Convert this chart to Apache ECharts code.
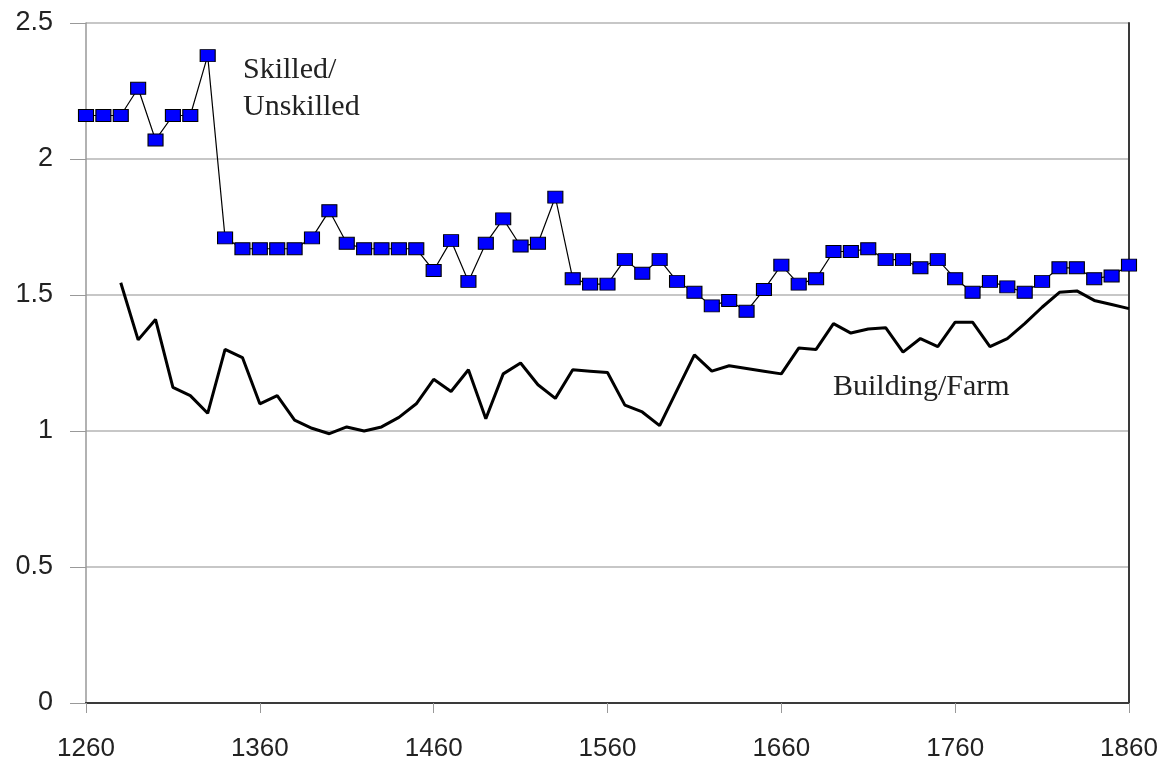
<!DOCTYPE html>
<html>
<head>
<meta charset="utf-8">
<title>Skilled/Unskilled and Building/Farm wage ratios</title>
<script src="https://cdn.jsdelivr.net/npm/echarts@6/dist/echarts.min.js"></script>
<style>
  html, body { margin: 0; padding: 0; background: #fff; }
  #main { width: 1169px; height: 773px; }
</style>
</head>
<body>
<div id="main"></div>
<script>
// decades on the x axis
var years = [1260, 1270, 1280, 1290, 1300, 1310, 1320, 1330, 1340, 1350,
  1360, 1370, 1380, 1390, 1400, 1410, 1420, 1430, 1440, 1450,
  1460, 1470, 1480, 1490, 1500, 1510, 1520, 1530, 1540, 1550,
  1560, 1570, 1580, 1590, 1600, 1610, 1620, 1630, 1640, 1650,
  1660, 1670, 1680, 1690, 1700, 1710, 1720, 1730, 1740, 1750,
  1760, 1770, 1780, 1790, 1800, 1810, 1820, 1830, 1840, 1850, 1860];

// skilled / unskilled wage ratio (blue squares)
var skilled = [2.16, 2.16, 2.16, 2.26, 2.07, 2.16, 2.16, 2.38, 1.71, 1.67,
  1.67, 1.67, 1.67, 1.71, 1.81, 1.69, 1.67, 1.67, 1.67, 1.67,
  1.59, 1.70, 1.55, 1.69, 1.78, 1.68, 1.69, 1.86, 1.56, 1.54,
  1.54, 1.63, 1.58, 1.63, 1.55, 1.51, 1.46, 1.48, 1.44, 1.52,
  1.61, 1.54, 1.56, 1.66, 1.66, 1.67, 1.63, 1.63, 1.60, 1.63,
  1.56, 1.51, 1.55, 1.53, 1.51, 1.55, 1.60, 1.60, 1.56, 1.57, 1.61];

// building / farm wage ratio (black line), starts in 1280
var building = [null, null, 1.545, 1.335, 1.41, 1.16, 1.13, 1.065, 1.30, 1.27,
  1.10, 1.13, 1.04, 1.01, 0.99, 1.015, 1.00, 1.015, 1.05, 1.10,
  1.19, 1.145, 1.225, 1.045, 1.21, 1.25, 1.17, 1.12, 1.225, 1.22,
  1.215, 1.095, 1.07, 1.02, 1.15, 1.28, 1.22, 1.24, 1.23, 1.22,
  1.21, 1.305, 1.30, 1.395, 1.36, 1.375, 1.38, 1.29, 1.34, 1.31,
  1.40, 1.40, 1.31, 1.34, 1.395, 1.455, 1.51, 1.515, 1.48, 1.465, 1.45];

var yTicks = [0, 0.5, 1, 1.5, 2, 2.5];

var chart = echarts.init(document.getElementById("main"));

var option = {
  backgroundColor: "#ffffff",
  animation: false,
  grid: {
    left: 86,
    right: 40,
    top: 23,
    bottom: 70
  },
  xAxis: [
    {
      type: "category",
      data: years,
      boundaryGap: false,
      axisLine: { show: true, lineStyle: { color: "#3a3a3a", width: 2 } },
      axisTick: {
        show: true,
        interval: 9,
        length: 10,
        lineStyle: { color: "#999999", width: 1 }
      },
      axisLabel: {
        interval: 9,
        margin: 33,
        color: "#222222",
        fontFamily: "Liberation Sans",
        fontSize: 26
      },
      splitLine: { show: false }
    },
    {
      // top border of the plot
      type: "category",
      data: years,
      position: "top",
      boundaryGap: false,
      axisLine: { show: true, lineStyle: { color: "#3a3a3a", width: 2 } },
      axisTick: { show: false },
      axisLabel: { show: false },
      splitLine: { show: false }
    }
  ],
  yAxis: [
    {
      type: "value",
      min: 0,
      max: 2.5,
      interval: 0.5,
      axisLine: { show: true, lineStyle: { color: "#999999", width: 1.5 } },
      axisTick: { show: true, length: 16, lineStyle: { color: "#999999" } },
      axisLabel: {
        margin: 33,
        color: "#222222",
        fontFamily: "Liberation Sans",
        fontSize: 27,
        formatter: function (v) {
          return yTicks.indexOf(v) >= 0 ? String(v) : "";
        }
      },
      splitLine: { show: true, lineStyle: { color: "#b4b4b4", width: 1.5 } }
    },
    {
      // right border of the plot
      type: "value",
      position: "right",
      min: 0,
      max: 2.5,
      interval: 0.5,
      axisLine: { show: true, lineStyle: { color: "#3a3a3a", width: 2 } },
      axisTick: { show: false },
      axisLabel: { show: false },
      splitLine: { show: false }
    }
  ],
  series: [
    {
      name: "Building/Farm",
      type: "line",
      data: building,
      symbol: "none",
      connectNulls: false,
      lineStyle: { color: "#000000", width: 3 },
      z: 2
    },
    {
      name: "Skilled/Unskilled",
      type: "line",
      data: skilled,
      symbol: "rect",
      symbolSize: [15, 12],
      showAllSymbol: true,
      itemStyle: { color: "#0000ff", borderColor: "#000000", borderWidth: 1 },
      lineStyle: { color: "#000000", width: 1.2 },
      z: 3
    }
  ],
  graphic: [
    {
      type: "text",
      left: 243,
      top: 52,
      style: {
        text: "Skilled/\nUnskilled",
        fill: "#222222",
        font: "30px 'Liberation Serif'",
        lineHeight: 37
      }
    },
    {
      type: "text",
      left: 833,
      top: 372,
      style: {
        text: "Building/Farm",
        fill: "#222222",
        font: "30px 'Liberation Serif'"
      }
    }
  ]
};

chart.setOption(option);
</script>
</body>
</html>
